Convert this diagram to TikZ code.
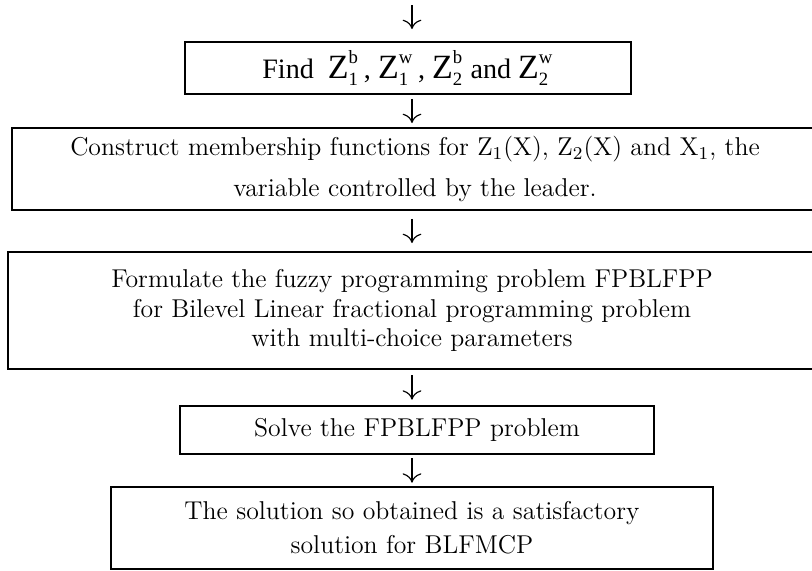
\documentclass[tikz,border=0pt]{standalone}
\usepackage{fontspec}
\usepackage{tikz}
\usetikzlibrary{arrows.meta, positioning}
\newfontfamily\timesfont{Liberation Serif}
\newcommand{\zsc}[1]{\mbox{\fontsize{8}{8}\selectfont #1}}
\newcommand{\zval}[2]{$\mbox{\fontsize{14.5}{14.5}\selectfont Z}^{\zsc{#2}}_{\zsc{#1}}$}
\tikzset{
  stepbox/.style={rectangle, draw, line width=0.8pt, align=center, inner sep=2pt,
    font=\fontsize{11}{12.5}\selectfont},
  flow/.style={-{To[length=4pt, width=8pt]}, line width=0.5pt, shorten <=#1, shorten >=#1},
  flow/.default=0.1cm,
}
\begin{document}
\begin{tikzpicture}[x=0.015cm, y=-0.015cm]
    \useasboundingbox (0,0) rectangle (812,571);
    \coordinate (start) at (412,5);
    \node[stepbox, minimum width=6.69cm, minimum height=0.78cm] (find) at (408,68)
      {\timesfont\fontsize{12}{15}\selectfont Find\ \ \zval{1}{b}\,, \zval{1}{w}\,, \zval{2}{b} and \zval{2}{w}};
    \node[stepbox, minimum width=12.1cm, minimum height=1.23cm] (member) at (415,169)
      {Construct membership functions for Z\textsubscript{1}(X), Z\textsubscript{2}(X) and X\textsubscript{1}, the\\[5pt]
       variable controlled by the leader.};
    \node[stepbox, minimum width=12.12cm, minimum height=1.755cm] (fuzzy) at (412,310.5)
      {Formulate the fuzzy programming problem FPBLFPP\\
       for Bilevel Linear fractional programming problem\\
       with multi-choice parameters};
    \node[stepbox, minimum width=7.11cm, minimum height=0.72cm] (solve) at (417,430)
      {Solve the FPBLFPP problem};
    \node[stepbox, minimum width=9.03cm, minimum height=1.23cm] (result) at (412,528)
      {The solution so obtained is a satisfactory\\[2pt]
       solution for BLFMCP};
    % connectors
    \draw[flow=0pt, shorten >=0.18cm] (start) -- (start |- find.north);
    \draw[flow=0.06cm] (find.south -| start) -- (start |- member.north);
    \draw[flow=0.12cm] (member.south -| start) -- (start |- fuzzy.north);
    \draw[flow=0.08cm] (fuzzy.south -| start) -- (start |- solve.north);
    \draw[flow=0.05cm] (solve.south -| start) -- (start |- result.north);
\end{tikzpicture}
\end{document}
